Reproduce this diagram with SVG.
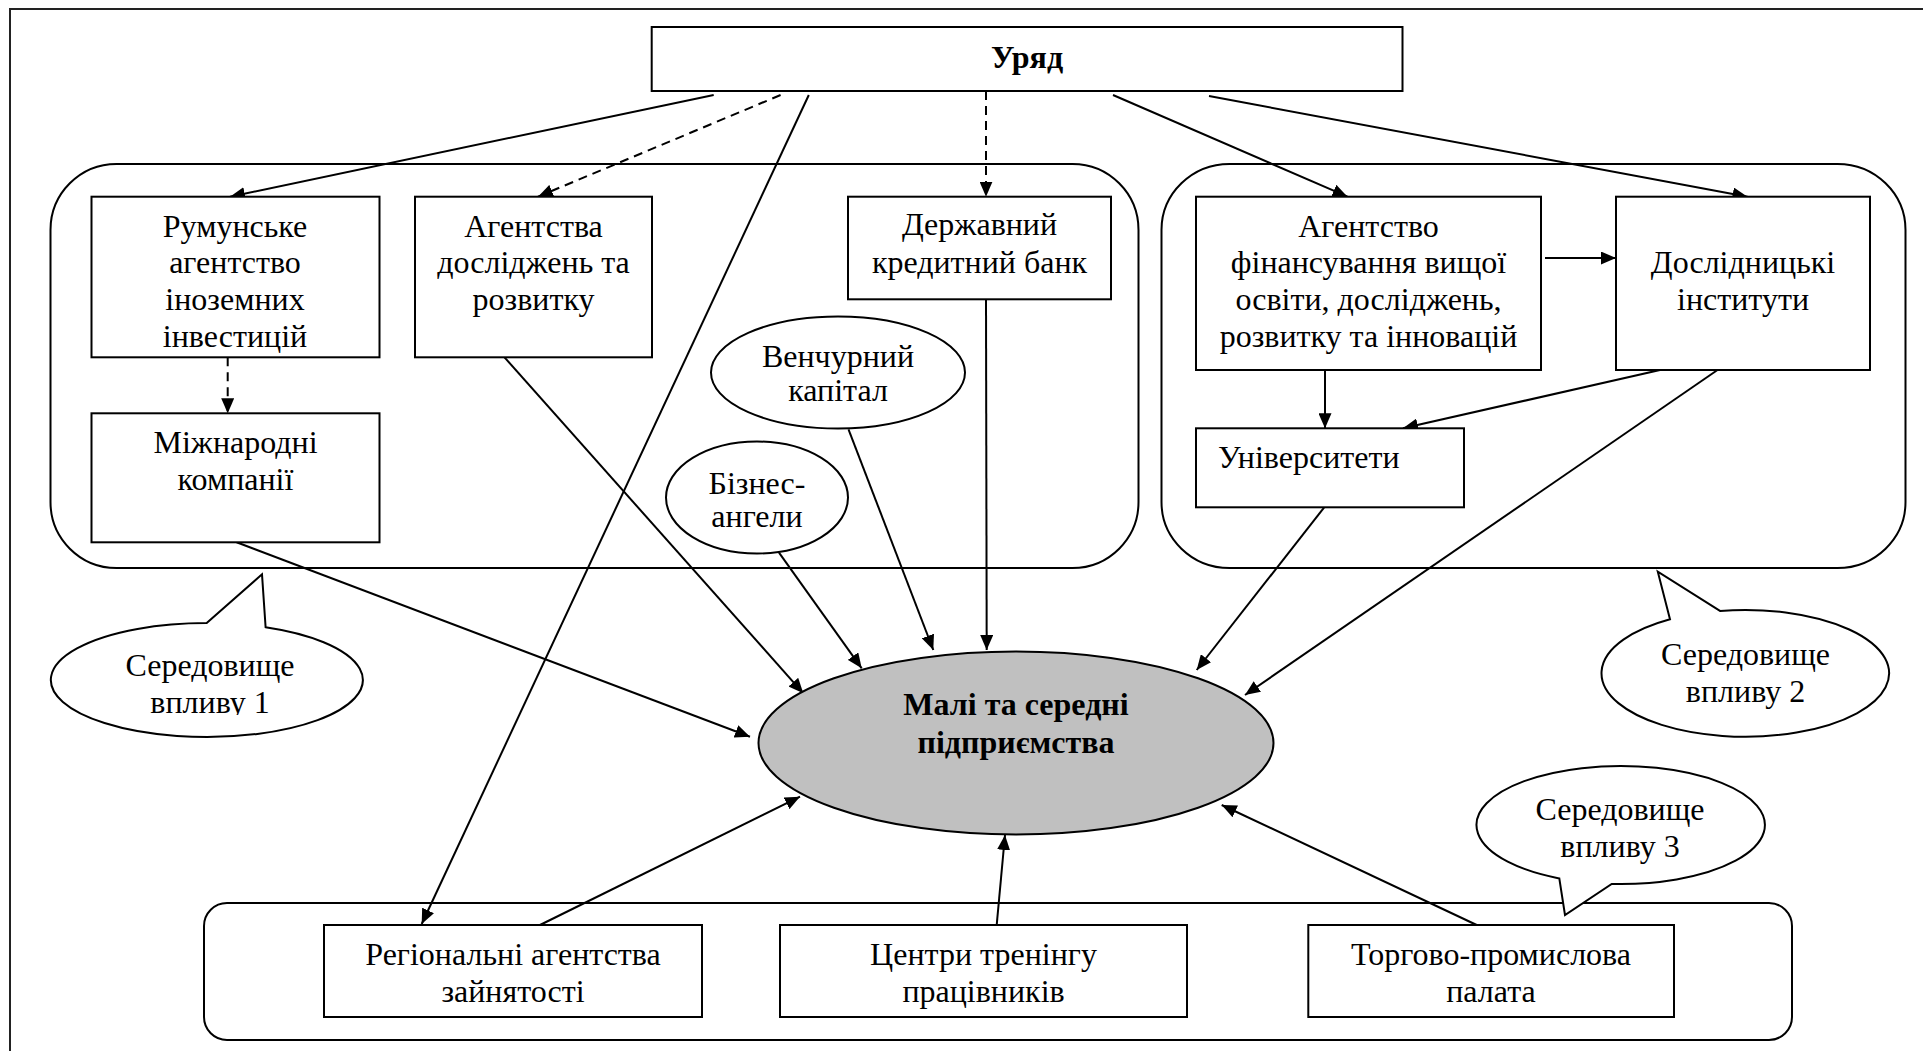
<svg xmlns="http://www.w3.org/2000/svg" width="1923" height="1051" viewBox="0 0 1923 1051" font-family="'Liberation Serif', 'DejaVu Serif', serif">
<style>
.bg{fill:#fff}
.frame{fill:none;stroke:#222;stroke-width:2}
.env{fill:#fff;stroke:#000;stroke-width:2}
.box{fill:#fff;stroke:#000;stroke-width:2}
.ell{fill:#fff;stroke:#000;stroke-width:2}
.sme{fill:#c0c0c0;stroke:#000;stroke-width:2}
.call{fill:#fff;stroke:#000;stroke-width:2;stroke-linejoin:miter}
.t{font-family:'Liberation Serif','DejaVu Serif',serif;font-size:32px;fill:#000;text-anchor:middle}
.b{font-weight:bold}
.l{text-anchor:start}
.c{fill:none;stroke:#000;stroke-width:2;marker-end:url(#ah)}
.d{stroke-dasharray:9 6}
</style>
<defs>
<marker id="ah" viewBox="0 0 15 13" refX="15" refY="6.5" markerWidth="15" markerHeight="13" markerUnits="userSpaceOnUse" orient="auto">
<path d="M0,0 L15,6.5 L0,13 z" fill="#000"/>
</marker>
<clipPath id="clip1"><rect x="40" y="600" width="340" height="115"/></clipPath>
</defs>
<rect class="bg" x="0" y="0" width="1923" height="1051"/>
<rect class="frame" x="10" y="9" width="2000" height="1100"/>

<g id="env1"><rect class="env" x="50.5" y="164" width="1088" height="404" rx="66" ry="66"/></g>
<g id="env2"><rect class="env" x="1161.5" y="164" width="744" height="404" rx="68" ry="66"/></g>
<g id="env3"><rect class="env" x="204" y="903" width="1588" height="137" rx="23" ry="23"/></g>

<g id="callout1">
<path class="call" d="M206.7 623 L262 574.3 L265.6 627.2 A156 57 0 1 1 206.7 623 Z"/>
<g clip-path="url(#clip1)"><text class="t" x="210" y="676">Середовище</text><text class="t" x="210" y="713">впливу 1</text></g>
</g>
<g id="callout2">
<path class="call" d="M1720 610.9 L1657.8 571.7 L1670 619.3 A143.8 63.4 0 1 0 1720 610.9 Z"/>
<text class="t" x="1745.5" y="665">Середовище</text><text class="t" x="1745.5" y="702">впливу 2</text>
</g>
<g id="callout3">
<path class="call" d="M1559.3 878.4 L1565 915 L1611.7 883.9 A144.2 59 0 1 0 1559.3 878.4 Z"/>
<text class="t" x="1620" y="820">Середовище</text><text class="t" x="1620" y="856.7">впливу 3</text>
</g>

<g id="connectors">
<line class="c" x1="713.7" y1="95" x2="230" y2="196.7"/>
<line class="c d" x1="780.6" y1="95" x2="538" y2="196.7"/>
<line class="c d" x1="986" y1="91" x2="986" y2="196.7"/>
<line class="c" x1="808.8" y1="95" x2="421.7" y2="924"/>
<line class="c" x1="1113" y1="95" x2="1347.5" y2="196.7"/>
<line class="c" x1="1209" y1="96" x2="1747.5" y2="196.7"/>
<line class="c d" x1="227.7" y1="357.3" x2="227.7" y2="413.3"/>
<line class="c" x1="1545" y1="258" x2="1616" y2="258"/>
<line class="c" x1="1325" y1="370" x2="1325" y2="428.3"/>
<line class="c" x1="1660" y1="370" x2="1403" y2="428.3"/>
<line class="c" x1="1717.5" y1="370" x2="1245" y2="695"/>
<line class="c" x1="1324.5" y1="507" x2="1196.7" y2="670"/>
<line class="c" x1="236.6" y1="542.3" x2="750" y2="736.7"/>
<line class="c" x1="504.5" y1="357.3" x2="803.3" y2="693.3"/>
<line class="c" x1="779" y1="552.7" x2="861.7" y2="668.3"/>
<line class="c" x1="848.5" y1="429.3" x2="933.3" y2="650"/>
<line class="c" x1="986" y1="299.3" x2="986.7" y2="650"/>
<line class="c" x1="540" y1="925" x2="800" y2="796.7"/>
<line class="c" x1="996.7" y1="925" x2="1005" y2="835"/>
<line class="c" x1="1476.7" y1="925" x2="1221.7" y2="805"/>
</g>

<g id="uriad"><rect class="box" x="651.7" y="27" width="750.8" height="64"/><text class="t b" x="1027" y="68.3">Уряд</text></g>
<g id="rumunske"><rect class="box" x="91.5" y="196.7" width="288" height="160.6"/>
<text class="t" x="235" y="236.7">Румунське</text><text class="t" x="235" y="273.3">агентство</text><text class="t" x="235" y="310">іноземних</text><text class="t" x="235" y="346.7">інвестицій</text></g>
<g id="agentstva"><rect class="box" x="415" y="196.7" width="237" height="160.6"/>
<text class="t" x="533.5" y="236.7">Агентства</text><text class="t" x="533.5" y="273.3">досліджень та</text><text class="t" x="533.5" y="310">розвитку</text></g>
<g id="derzhbank"><rect class="box" x="848" y="196.7" width="263" height="102.6"/>
<text class="t" x="979.5" y="235">Державний</text><text class="t" x="979.5" y="273.3">кредитний банк</text></g>
<g id="mizhnarodni"><rect class="box" x="91.5" y="413.3" width="288" height="129"/>
<text class="t" x="235.5" y="453.3">Міжнародні</text><text class="t" x="235.5" y="490">компанії</text></g>
<g id="venture"><ellipse class="ell" cx="838" cy="372.5" rx="127" ry="56"/>
<text class="t" x="838" y="366.7">Венчурний</text><text class="t" x="838" y="400.7">капітал</text></g>
<g id="angels"><ellipse class="ell" cx="757" cy="497.5" rx="91" ry="56"/>
<text class="t" x="757" y="494">Бізнес-</text><text class="t" x="757" y="527">ангели</text></g>
<g id="agfin"><rect class="box" x="1196" y="196.7" width="345" height="173.3"/>
<text class="t" x="1368.5" y="236.7">Агентство</text><text class="t" x="1368.5" y="273">фінансування вищої</text><text class="t" x="1368.5" y="310">освіти, досліджень,</text><text class="t" x="1368.5" y="346.7">розвитку та інновацій</text></g>
<g id="doslidni"><rect class="box" x="1616" y="196.7" width="254" height="173.3"/>
<text class="t" x="1743" y="273">Дослідницькі</text><text class="t" x="1743" y="310">інститути</text></g>
<g id="univ"><rect class="box" x="1196" y="428.3" width="268" height="79"/>
<text class="t l" x="1218" y="468">Університети</text></g>
<g id="sme"><ellipse class="sme" cx="1016" cy="743" rx="257.5" ry="91.5"/>
<text class="t b" x="1016" y="715">Малі та середні</text><text class="t b" x="1016" y="753.3">підприємства</text></g>
<g id="regional"><rect class="box" x="324" y="925" width="378" height="92"/>
<text class="t" x="513" y="965">Регіональні агентства</text><text class="t" x="513" y="1001.7">зайнятості</text></g>
<g id="centry"><rect class="box" x="780" y="925" width="407" height="92"/>
<text class="t" x="983.5" y="965">Центри тренінгу</text><text class="t" x="983.5" y="1001.7">працівників</text></g>
<g id="torgovo"><rect class="box" x="1308.3" y="925" width="365.7" height="92"/>
<text class="t" x="1491" y="965">Торгово-промислова</text><text class="t" x="1491" y="1001.7">палата</text></g>
</svg>
